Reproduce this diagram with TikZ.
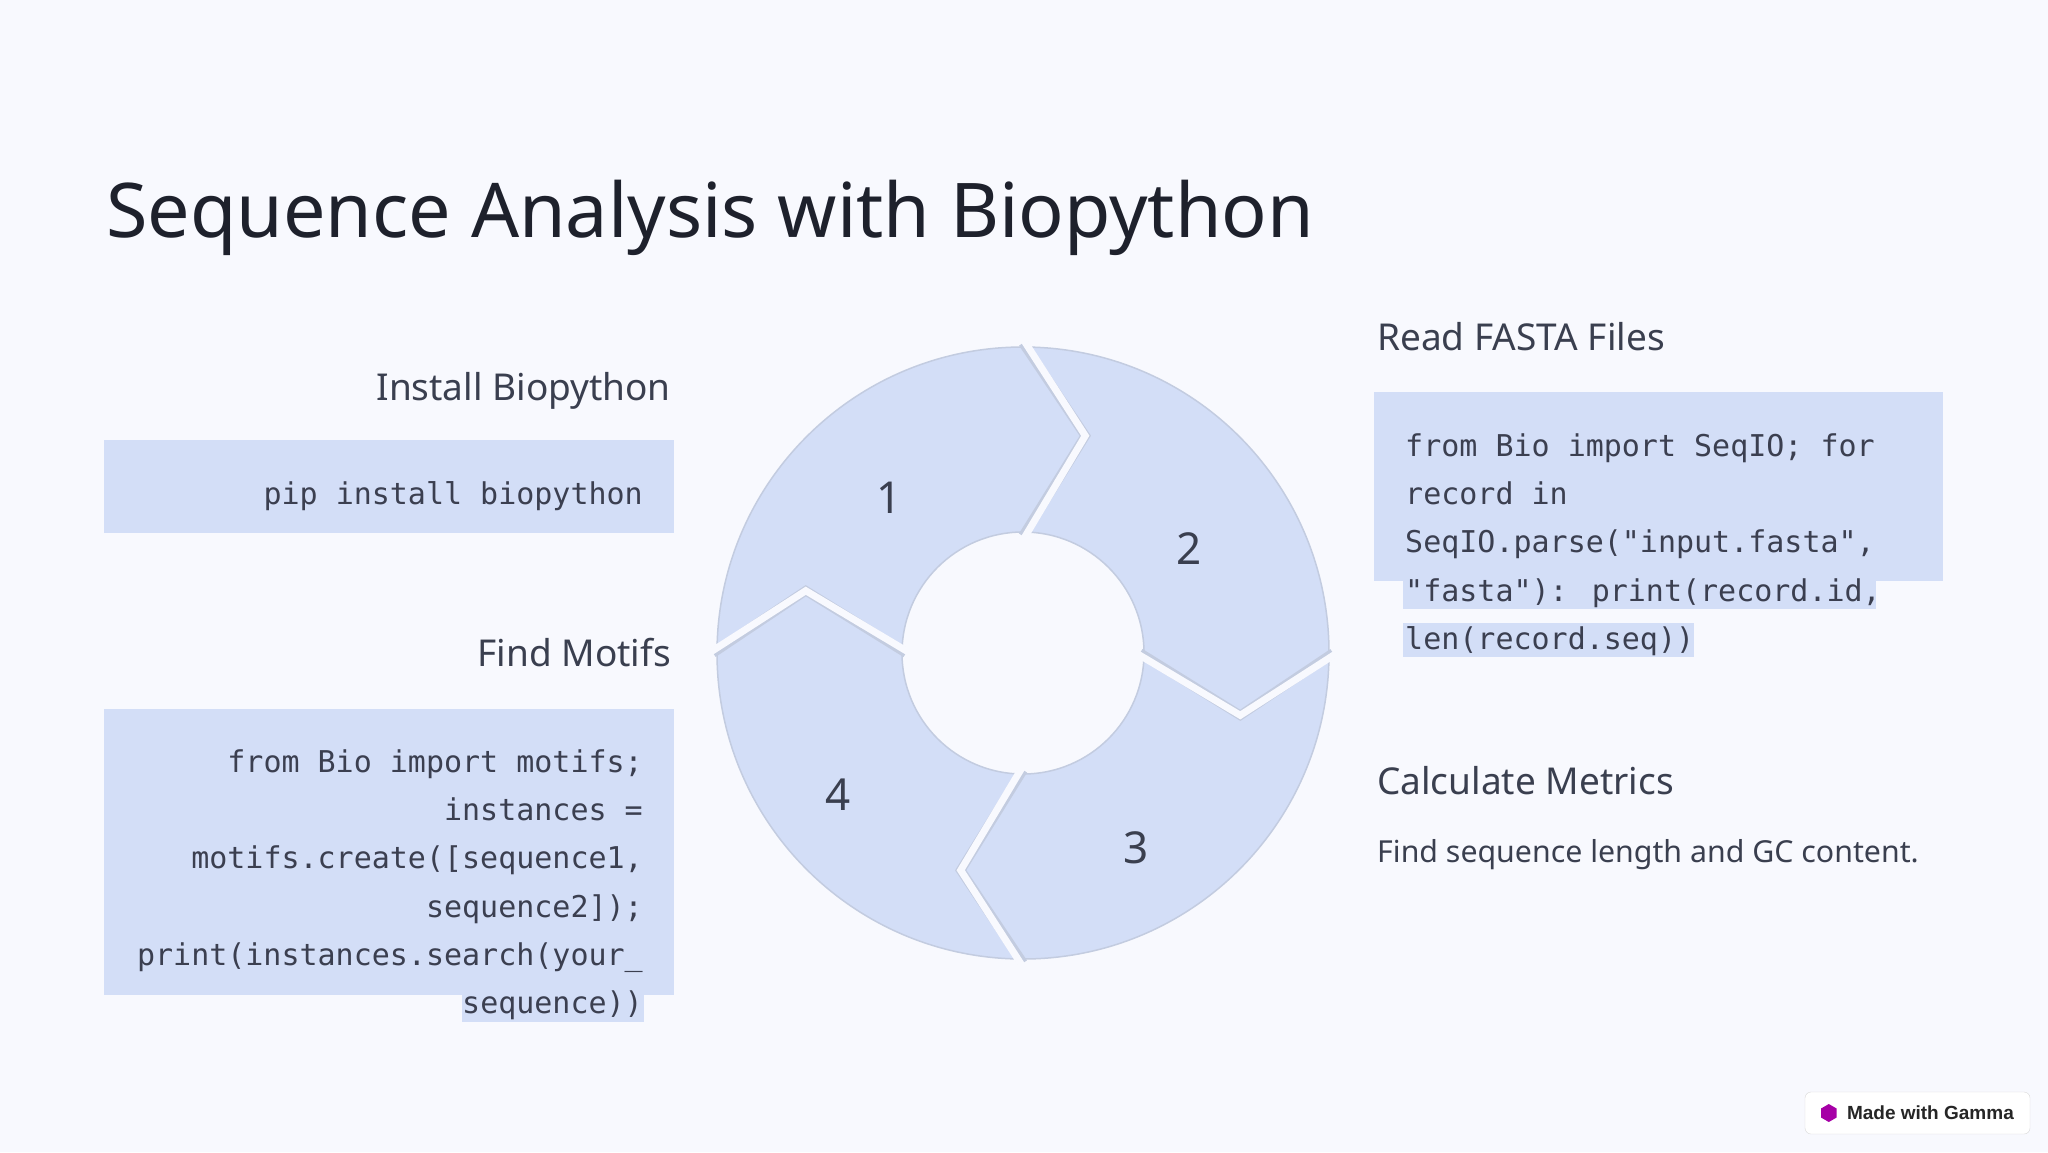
\documentclass[tikz,border=0pt]{standalone}
\usepackage{fontspec}
\setmainfont{Noto Sans}
\newfontfamily\codefont{DejaVu Sans Mono}
\newfontfamily\badgefont{Liberation Sans}
\usetikzlibrary{calc}
\definecolor{bg}{HTML}{F8F9FE}
\definecolor{boxc}{HTML}{D3DEF7}
\definecolor{ringb}{HTML}{C3CCE0}
\definecolor{titlec}{HTML}{1E212C}
\definecolor{headc}{HTML}{3A3F4F}
\definecolor{codec}{HTML}{3B3F50}
\tikzset{
  head/.style={inner sep=0pt,text=headc,font=\fontsize{37}{44}\selectfont},
  code/.style={inner sep=0pt,text=codec,font=\codefont\fontsize{30}{48}\selectfont},
  num/.style={inner sep=0pt,text=headc,font=\fontsize{44}{50}\selectfont},
  panel/.style={fill=boxc,draw=none},
}
\begin{document}
\begin{tikzpicture}[x=1pt,y=1pt]
\fill[bg] (0,0) rectangle (2048,-1152);
\useasboundingbox (0,0) rectangle (2048,-1152);
% title
\node[anchor=base west,inner sep=0pt,text=titlec,font=\fontsize{75.5}{90}\selectfont] (title) at (106,-237) {Sequence Analysis with Biopython};
% left column
\node[head,anchor=base east] (h1) at (671,-400) {Install Biopython};
\fill[panel] (104,-440) rectangle (674,-533);
\node[code,anchor=base east] (c1) at (643,-504) {pip install biopython};
\node[head,anchor=base east] (h4) at (671,-666) {Find Motifs};
\fill[panel] (104,-709) rectangle (674,-995);
\fill[panel] (462,-985) rectangle (644,-1022);
\node[code,anchor=base east] (m1) at (643,-772) {from Bio import motifs;};
\node[code,anchor=base east] (m2) at (643,-820) {instances =};
\node[code,anchor=base east] (m3) at (643,-868) {motifs.create([sequence1,};
\node[code,anchor=base east] (m4) at (643,-917) {sequence2]);};
\node[code,anchor=base east] (m5) at (643,-965) {print(instances.search(your\_};
\node[code,anchor=base east] (m6) at (643,-1013) {sequence))};
% right column
\node[head,anchor=base west] (h2) at (1377,-350) {Read FASTA Files};
\fill[panel] (1374,-392) rectangle (1943,-581);
\fill[panel] (1403,-575) rectangle (1876,-609);
\fill[panel] (1403,-623) rectangle (1694,-657);
\node[code,anchor=base west] (r1) at (1405,-456) {from Bio import SeqIO; for};
\node[code,anchor=base west] (r2) at (1405,-504) {record in};
\node[code,anchor=base west] (r3) at (1405,-552) {SeqIO.parse("input.fasta",};
\node[code,anchor=base west] (r4) at (1405,-601) {"fasta"): print(record.id,};
\node[code,anchor=base west] (r5) at (1405,-649) {len(record.seq))};
\node[head,anchor=base west] (h3) at (1377,-794) {Calculate Metrics};
\node[inner sep=0pt,anchor=base west,text=headc,font=\fontsize{30.3}{36}\selectfont] (t3) at (1377,-862) {Find sequence length and GC content.};
% ring
\coordinate (c) at (1023,-653);
\fill[boxc,draw=ringb,line width=1.5pt,even odd rule] (c) circle[radius=306pt] (c) circle[radius=121pt];
\foreach \t in {90,0,-90,180}{
  \draw[ringb,line width=9.5pt,line join=miter] ($(c)+(\t:310pt)$) -- ($(c)+(\t-16:226pt)$) -- ($(c)+(\t:117pt)$);
  \draw[bg,line width=7pt,line join=miter] ($(c)+(\t:314pt)$) -- ($(c)+(\t-16:226pt)$) -- ($(c)+(\t:113pt)$);
}
\node[num] (n1) at (889,-498) {1};
\node[num] (n2) at (1189,-549) {2};
\node[num] (n3) at (1136,-848) {3};
\node[num] (n4) at (838,-795) {4};
% badge
\node[draw=black!15,fill=white,rounded corners=6pt,minimum width=225pt,minimum height=42pt,inner sep=0pt] (badge) at (1917.5,-1113) {};
\fill[violet!70!magenta] ($(badge.west)+(24,0)$) ++(0,9) -- ++(7.8,-4.5) -- ++(0,-9) -- ++(-7.8,-4.5) -- ++(-7.8,4.5) -- ++(0,9) -- cycle;
\node[anchor=west,inner sep=0pt,text=black!85,font=\badgefont\bfseries\fontsize{19}{22}\selectfont] (bt) at ($(badge.west)+(42,0)$) {Made with Gamma};
\end{tikzpicture}
\end{document}
